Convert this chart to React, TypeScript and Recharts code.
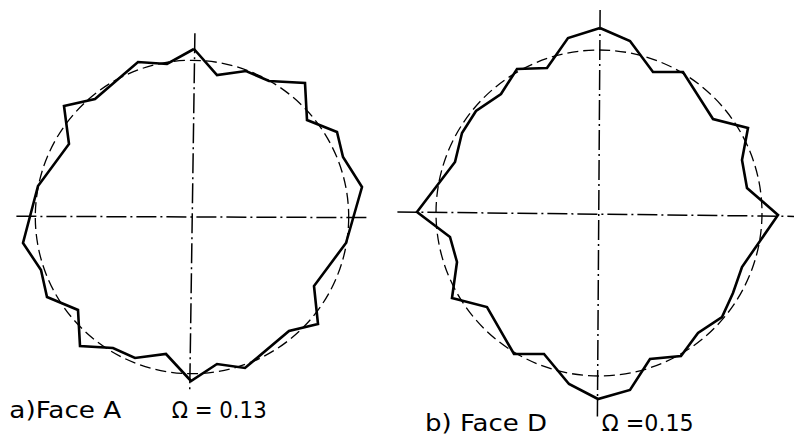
import React from 'react';
import { ScatterChart, Scatter, XAxis, YAxis, ReferenceLine, ReferenceArea } from 'recharts';

// Face A: measured profile points (x, y) relative to the centre, clockwise from top
const faceAProfile: [number, number][] = [
  [2, 168], [25, 142], [54, 146], [77, 136], [113, 134], [115, 97], [145, 85], [151, 60],
  [170, 30], [154, -26], [122, -69], [126, -107], [97, -114], [53, -151], [25, -147], [-1, -164],
  [-26, -137], [-57, -141], [-79, -131], [-112, -129], [-114, -93], [-145, -80], [-151, -53],
  [-169, -26], [-154, 31], [-123, 73], [-128, 111], [-97, 118], [-54, 155], [-25, 153],
];
const faceARadius = 156.7;
const faceAHorizontalAxis: [number, number][] = [[-175.6, 0.7], [176.4, -0.6]];
const faceAVerticalAxis: [number, number][] = [[2.9, 183.7], [-2.3, -175.3]];

// Face D: measured profile points
const faceDProfile: [number, number][] = [
  [1, 185], [31, 172], [54, 141], [84, 141], [114, 94], [149, 85], [143, 53], [148, 25],
  [179, -2], [143, -54], [134, -80], [123, -104], [99, -120], [82, -143], [51, -146], [31, -177],
  [-1, -186], [-30, -171], [-55, -141], [-85, -141], [-112, -94], [-147, -85], [-142, -49],
  [-149, -24], [-182, 1], [-144, 51], [-137, 80], [-123, 102], [-98, 119], [-82, 144],
  [-52, 145], [-31, 175],
];
const faceDRadius = 163;
const faceDHorizontalAxis: [number, number][] = [[-201.6, 1.1], [195, -3.4]];
const faceDVerticalAxis: [number, number][] = [[1.1, 203.1], [-1.6, -203.6]];

const labelsA = ['a)Face A', 'Ω = 0.13'];
const labelsD = ['b) Face  D', 'Ω =0.15'];

const closed = (pts: [number, number][]) =>
  [...pts, pts[0]].map(([x, y]) => ({ x, y }));

const toSeg = (pts: [number, number][]) => pts.map(([x, y]) => ({ x, y }));

const CircleShape = (props: any) => {
  const { x, y, width, height } = props;
  return (
    <ellipse
      cx={x + width / 2}
      cy={y + height / 2}
      rx={Math.abs(width) / 2}
      ry={Math.abs(height) / 2}
      fill="none"
      stroke="#000"
      strokeWidth={1.3}
      strokeDasharray="11 5"
    />
  );
};

const NoDot = () => <g />;

const AXIS_DASH = '20 4 2 4';

interface PanelProps {
  profile: [number, number][];
  radius: number;
  hAxis: [number, number][];
  vAxis: [number, number][];
  xDomain: [number, number];
  yDomain: [number, number];
  width: number;
  height: number;
}

const Panel = ({ profile, radius, hAxis, vAxis, xDomain, yDomain, width, height }: PanelProps) => (
  <ScatterChart width={width} height={height} margin={{ top: 0, right: 0, bottom: 0, left: 0 }}>
    <XAxis type="number" dataKey="x" domain={xDomain} hide allowDataOverflow />
    <YAxis type="number" dataKey="y" domain={yDomain} hide allowDataOverflow />
    <ReferenceArea
      x1={-radius}
      x2={radius}
      y1={-radius}
      y2={radius}
      shape={CircleShape}
      ifOverflow="visible"
    />
    <ReferenceLine
      segment={toSeg(hAxis)}
      stroke="#000"
      strokeWidth={1.5}
      strokeDasharray={AXIS_DASH}
      ifOverflow="visible"
    />
    <ReferenceLine
      segment={toSeg(vAxis)}
      stroke="#000"
      strokeWidth={1.5}
      strokeDasharray={AXIS_DASH}
      ifOverflow="visible"
    />
    <Scatter
      data={closed(profile)}
      line={{ stroke: '#000', strokeWidth: 2.6 }}
      lineType="joint"
      shape={NoDot}
      isAnimationActive={false}
    />
  </ScatterChart>
);

export default function App() {
  return (
    <div
      style={{
        position: 'fixed',
        left: 0,
        top: 0,
        width: 794,
        height: 436,
        background: '#fff',
        overflow: 'hidden',
      }}
    >
      <div style={{ position: 'absolute', left: 6.6, top: 31.7 }}>
        <Panel
          profile={faceAProfile}
          radius={faceARadius}
          hAxis={faceAHorizontalAxis}
          vAxis={faceAVerticalAxis}
          xDomain={[-185, 185]}
          yDomain={[-185, 185]}
          width={370}
          height={370}
        />
      </div>
      <div style={{ position: 'absolute', left: 393.6, top: 8.1 }}>
        <Panel
          profile={faceDProfile}
          radius={faceDRadius}
          hAxis={faceDHorizontalAxis}
          vAxis={faceDVerticalAxis}
          xDomain={[-205, 195]}
          yDomain={[-205, 205]}
          width={400}
          height={410}
        />
      </div>
      <svg
        width={794}
        height={436}
        style={{ position: 'absolute', left: 0, top: 0, pointerEvents: 'none' }}
        fontFamily="DejaVu Sans"
        fill="#000"
      >
        <text x={9.3} y={418.3} fontSize={23} textLength={112} lengthAdjust="spacingAndGlyphs">
          {labelsA[0]}
        </text>
        <text x={171.7} y={418.3} fontSize={23} textLength={95} lengthAdjust="spacingAndGlyphs">
          {labelsA[1]}
        </text>
        <text x={425} y={430.5} fontSize={23.5} textLength={122} lengthAdjust="spacingAndGlyphs">
          {labelsD[0]}
        </text>
        <text x={601.7} y={430.5} fontSize={23.5} textLength={92} lengthAdjust="spacingAndGlyphs">
          {labelsD[1]}
        </text>
      </svg>
    </div>
  );
}
